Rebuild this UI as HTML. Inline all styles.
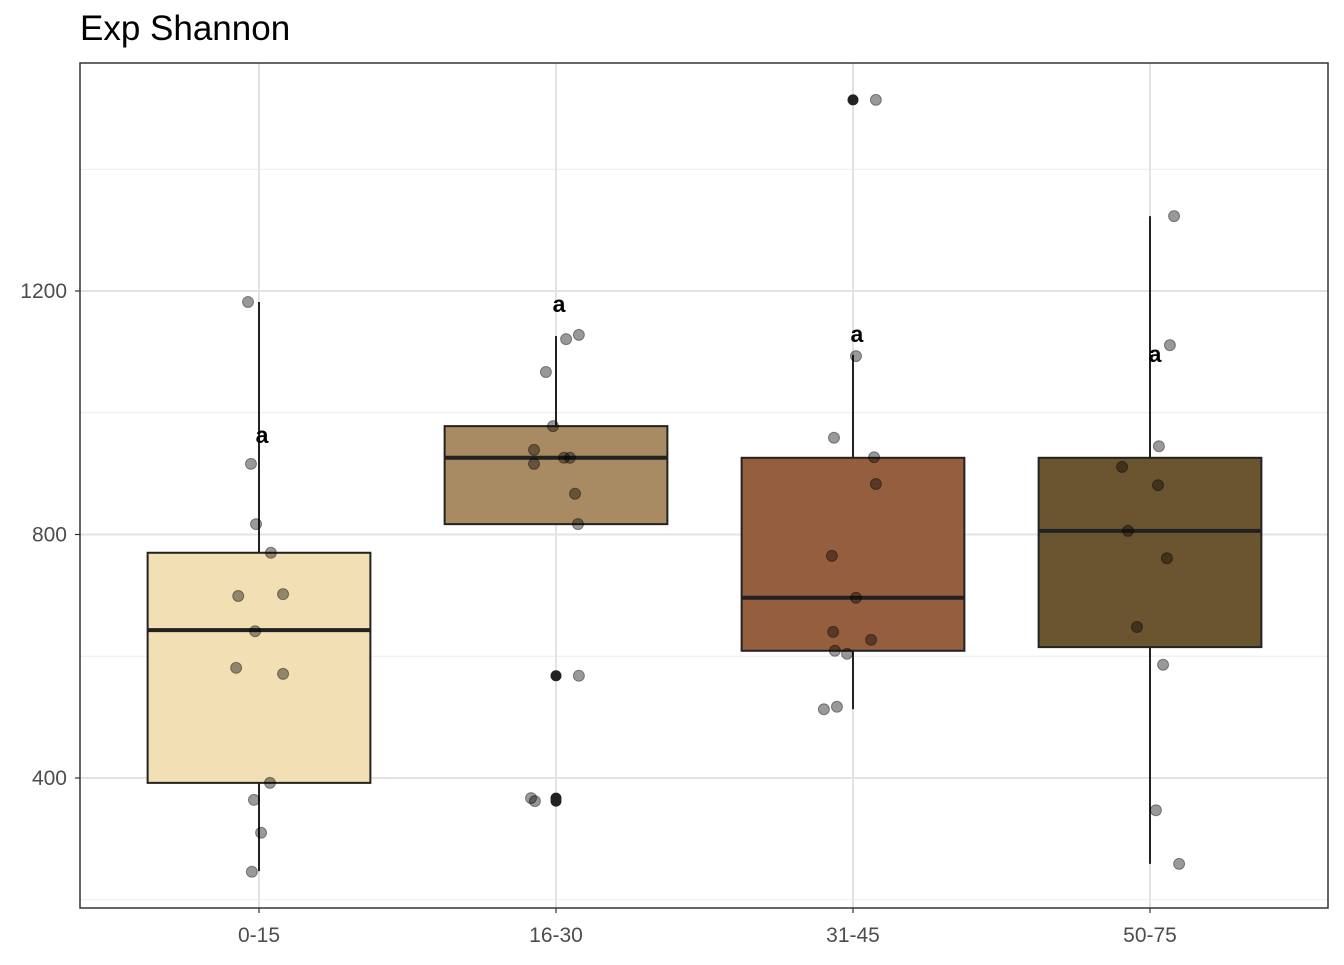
<!DOCTYPE html>
<html><head><meta charset="utf-8"><style>
body{margin:0;background:#fff;font-family:"Liberation Sans",Arial,sans-serif;}
</style></head><body>
<svg id="chart" width="1344" height="960" xmlns="http://www.w3.org/2000/svg">
<text x="80" y="40" font-size="35" fill="#000">Exp Shannon</text>
</svg>
<script>
const categories = ["0-15","16-30","31-45","50-75"];
const fills = ["#F2E0B4","#A88B62","#955F3F","#6B5430"];
const q1 = [392, 817, 609, 615];
const medians = [643, 926, 696, 806];
const q3 = [770, 978, 926, 926];
const whiskerLow = [247, 817, 513, 259];
const whiskerHigh = [1182, 1126, 1095, 1323];
const outliers = [[], [568, 367, 362], [1514], []];
const letterValues = [962, 1177, 1128, 1095];
const letterOffsets = [0.01, 0.01, 0.013, 0.017];
const pointValues = [
 [1182,916,817,770,699,702,641,581,571,392,364,310,246],
 [1121,1128,1067,978,939,916,926,926,867,817,568,367,362],
 [1514,1093,959,927,883,765,696,640,609,604,627,513,517],
 [1323,1111,945,911,881,806,761,648,586,347,259]
];
const pointJitter = [
 [-0.037,-0.027,-0.01,0.04,-0.07,0.081,-0.013,-0.077,0.081,0.037,-0.017,0.007,-0.024],
 [0.034,0.077,-0.034,-0.01,-0.074,-0.074,0.027,0.047,0.064,0.074,0.077,-0.084,-0.071],
 [0.077,0.01,-0.064,0.071,0.077,-0.071,0.01,-0.067,-0.061,-0.02,0.061,-0.098,-0.054],
 [0.081,0.067,0.03,-0.094,0.027,-0.074,0.057,-0.044,0.044,0.02,0.098]
];
const yTicks = [400, 800, 1200];
const yMinor = [200, 600, 1000, 1400];

const svg = document.getElementById('chart');
const NS = "http://www.w3.org/2000/svg";
const L=80, R=1328, T=63, B=908;
const y = v => 778 - (v-400)*0.60875;
const x = i => 259 + i*297;
const step = 297;
function mk(tag, attrs, parent){const e=document.createElementNS(NS,tag);for(const k in attrs)e.setAttribute(k,attrs[k]);(parent||svg).appendChild(e);return e;}

yMinor.forEach(v=>{const e=mk('line',{x1:L,x2:R,y1:y(v),y2:y(v),stroke:'#ebebeb','stroke-width':1});

});
yTicks.forEach(v=>{const e=mk('line',{x1:L,x2:R,y1:y(v),y2:y(v),stroke:'#e3e3e3','stroke-width':2});


const t=mk('text',{x:L-13,y:y(v)+7,'text-anchor':'end','font-size':21,fill:'#4d4d4d'});t.textContent=v;


mk('line',{x1:L-5,x2:L,y1:y(v),y2:y(v),stroke:'#333','stroke-width':1.2});});
categories.forEach((c,i)=>{const e=mk('line',{x1:x(i),x2:x(i),y1:T,y2:B,stroke:'#e3e3e3','stroke-width':2});


mk('line',{x1:x(i),x2:x(i),y1:B,y2:B+5,stroke:'#333','stroke-width':1.2});
const t=mk('text',{x:x(i),y:B+34,'text-anchor':'middle','font-size':21,fill:'#4d4d4d'});t.textContent=c;

});

categories.forEach((c,i)=>{
 const g=mk('g',{});
 
 
 mk('line',{x1:x(i),x2:x(i),y1:y(whiskerHigh[i]),y2:y(q3[i]),stroke:'#222','stroke-width':2},g);
 mk('line',{x1:x(i),x2:x(i),y1:y(q1[i]),y2:y(whiskerLow[i]),stroke:'#222','stroke-width':2},g);
 const w=step*0.75;
 mk('rect',{x:x(i)-w/2,y:y(q3[i]),width:w,height:y(q1[i])-y(q3[i]),fill:fills[i],stroke:'#222','stroke-width':2},g);
 mk('line',{x1:x(i)-w/2,x2:x(i)+w/2,y1:y(medians[i]),y2:y(medians[i]),stroke:'#222','stroke-width':4},g);
 outliers[i].forEach(v=>{const o=mk('circle',{cx:x(i),cy:y(v),r:5.5,fill:'#222'});
 
 });
});
pointValues.forEach((arr,i)=>arr.forEach((v,j)=>{
 const p=mk('circle',{cx:x(i)+pointJitter[i][j]*step,cy:y(v),r:5.5,fill:'#000','fill-opacity':0.4,stroke:'#000','stroke-opacity':0.4,'stroke-width':1});
 
 
}));
letterValues.forEach((v,i)=>{
 const t=mk('text',{x:x(i)+letterOffsets[i]*step,y:y(v)+7,'text-anchor':'middle','font-size':23,'font-weight':'bold',fill:'#000'});t.textContent='a';
 
 
});
const fr=mk('rect',{x:L,y:T,width:R-L,height:B-T,fill:'none',stroke:'#333','stroke-width':1.5});


</script>
</body></html>
